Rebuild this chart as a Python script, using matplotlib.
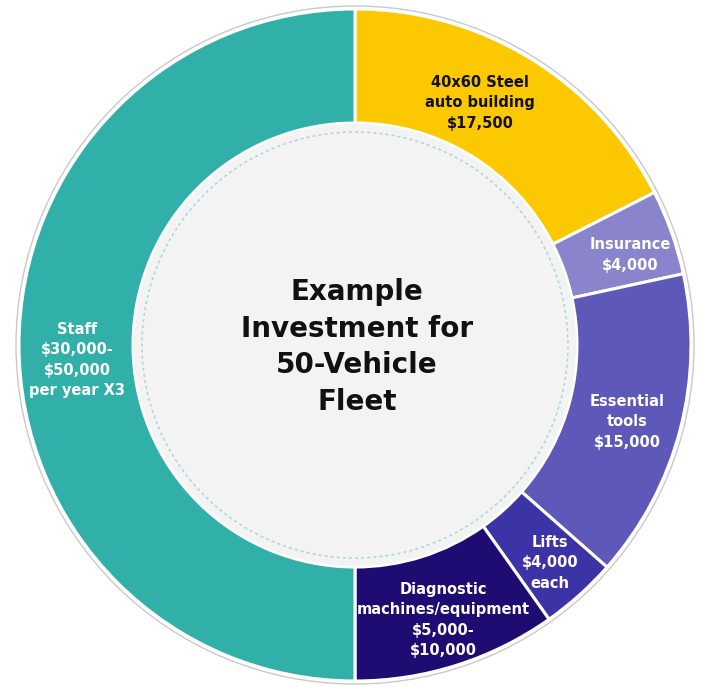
import matplotlib.pyplot as plt
from matplotlib.patches import Circle

# shares of the ring, clockwise from 12 o'clock
labels = ["40x60 Steel\nauto building\n$17,500",
          "Insurance\n$4,000",
          "Essential\ntools\n$15,000",
          "Lifts\n$4,000\neach",
          "Diagnostic\nmachines/equipment\n$5,000-\n$10,000",
          "Staff\n$30,000-\n$50,000\nper year X3"]
shares = [17.5, 4.1, 14.9, 3.7, 9.8, 50.0]
colors = ["#fcc800", "#8a84cd", "#5e59b9", "#3b33a6", "#1f0c72", "#31b0aa"]
text_colors = ["#111111", "white", "white", "white", "white", "white"]
# label spots in pixel space (x, y from top)
label_pos = [(480, 103), (630, 255), (627, 422), (550, 563), (443, 620), (77, 360)]

title = "Example\nInvestment for\n50-Vehicle\nFleet"

W, H = 704, 686
cx, cy = 355, H - 345
r_out, r_in = 336, 222

plt.rcParams['font.family'] = ['DejaVu Sans']

fig = plt.figure(figsize=(W / 100, H / 100), dpi=100)
ax = fig.add_axes([0, 0, 1, 1])

# thin grey rim
ax.add_patch(Circle((cx, cy), r_out + 3, facecolor='none', edgecolor='#c9c9c9', lw=1))

ax.pie(shares, colors=colors, startangle=90, counterclock=False,
       center=(cx, cy), radius=r_out, frame=True,
       wedgeprops=dict(width=r_out - r_in, edgecolor='white', linewidth=2.2))

# inner disc and dotted ring
ax.add_patch(Circle((cx, cy), r_in - 1, facecolor='#f4f3f4', edgecolor='none'))
ax.add_patch(Circle((cx, cy), r_in - 9, facecolor='none', edgecolor='#a9d6d8',
                    lw=1.1, linestyle=(0, (2, 2))))

ax.set_xlim(0, W)
ax.set_ylim(0, H)
ax.set_aspect('equal')
ax.axis('off')

for lab, (px, py), tc in zip(labels, label_pos, text_colors):
    ax.text(px, H - py, lab, ha='center', va='center', color=tc,
            fontsize=10.5, fontweight='bold', linespacing=1.45)

ax.text(cx + 2, H - 347, title, ha='center', va='center', color='#111111',
        fontsize=20, fontweight='bold', linespacing=1.38)

fig.savefig('out.png', dpi=100, facecolor='white')
